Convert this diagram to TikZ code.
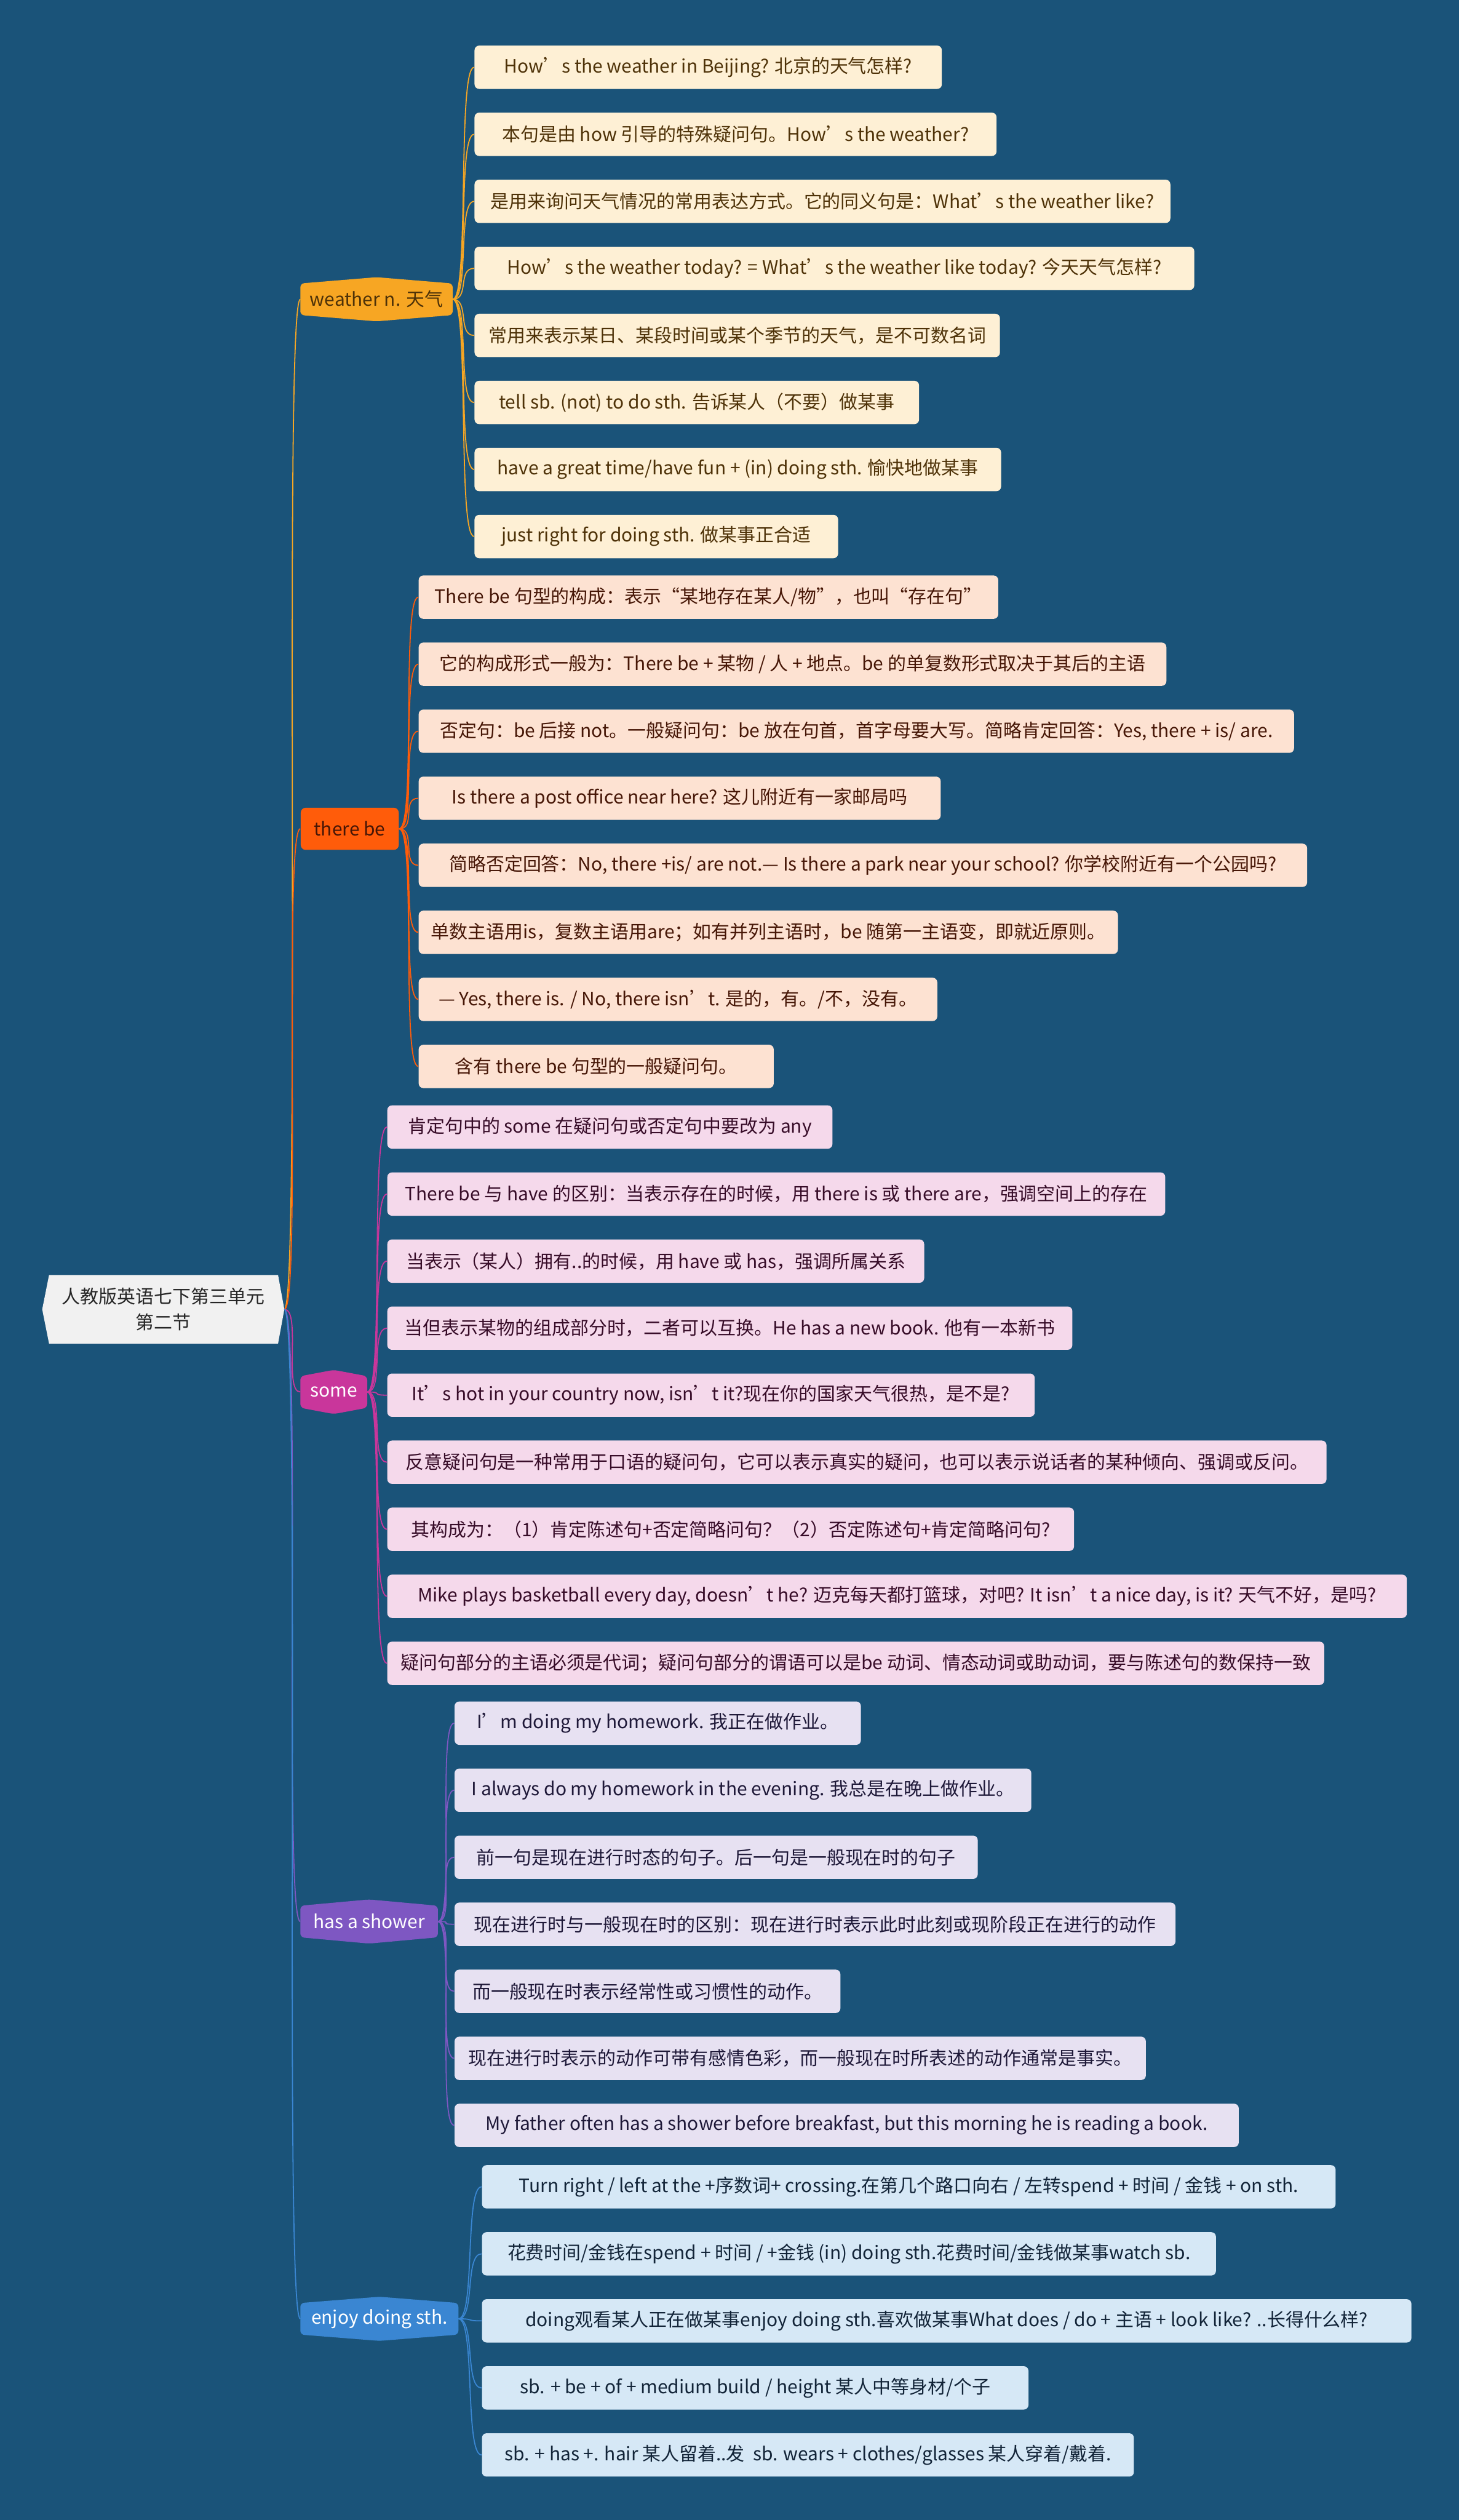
\documentclass[tikz,border=0pt]{standalone}
\usepackage{fontspec}
\setmainfont{Noto Sans CJK SC}
\usetikzlibrary{positioning,backgrounds,calc}
\definecolor{bgblue}{RGB}{26,83,121}
\definecolor{rootfill}{RGB}{241,241,241}
\definecolor{wcol}{RGB}{247,166,35}
\definecolor{tcol}{RGB}{255,92,10}
\definecolor{scol}{RGB}{201,54,155}
\definecolor{hcol}{RGB}{126,87,194}
\definecolor{ecol}{RGB}{58,134,210}
\definecolor{wfill}{RGB}{254,240,213}
\definecolor{tfill}{RGB}{253,226,210}
\definecolor{sfill}{RGB}{245,217,235}
\definecolor{hfill}{RGB}{231,225,242}
\definecolor{efill}{RGB}{214,232,246}
\definecolor{wtext}{RGB}{78,50,8}
\definecolor{ttext}{RGB}{70,22,6}
\definecolor{stext}{RGB}{55,12,40}
\definecolor{htext}{RGB}{30,24,56}
\definecolor{etext}{RGB}{18,36,56}
\newcommand{\hexfill}[2]{\fill[#2,rounded corners=2pt] (#1.north west) -- ([yshift=1.1mm]#1.north) -- (#1.north east) -- (#1.south east) -- ([yshift=-1.1mm]#1.south) -- (#1.south west) -- cycle;}

\begin{document}
\begin{tikzpicture}[every node/.style={font=\fontsize{9.2pt}{12.8pt}\selectfont},
  leaf/.style={rounded corners=2.3pt,minimum height=0.76cm,inner xsep=0.2cm,inner ysep=0pt,anchor=west},
  wleaf/.style={leaf,fill=wfill,text=wtext},
  tleaf/.style={leaf,fill=tfill,text=ttext},
  sleaf/.style={leaf,fill=sfill,text=stext},
  hleaf/.style={leaf,fill=hfill,text=htext},
  eleaf/.style={leaf,fill=efill,text=etext},
  mnode/.style={minimum height=0.54cm,inner sep=0pt,anchor=west},
  link/.style={line width=0.55pt,to path={.. controls +(0.3,0) and +(-0.3,0) .. (\tikztotarget)}}]
  \useasboundingbox (0,0) rectangle (25.6,-44.21);

  \node[minimum width=4.09cm,minimum height=1.19cm,text width=4cm,align=center,text=black!85] (root) at (2.865,-22.97) {人教版英语七下第三单元\\第二节};

  % main branches
  \node[mnode,minimum width=2.66cm,text=wtext] (weather) at (5.27,-5.25) {weather n. 天气};
  \node[mnode,minimum width=1.72cm,minimum height=0.74cm,fill=tcol,rounded corners=2.5pt,text=ttext] (therebe) at (5.27,-14.54) {there be};
  \node[mnode,minimum width=1.16cm,text=white] (some) at (5.27,-24.42) {some};
  \node[mnode,minimum width=2.40cm,text=white] (shower) at (5.27,-33.71) {has a shower};
  \node[mnode,minimum width=2.76cm,text=white] (enjoy) at (5.27,-40.68) {enjoy doing sth.};

  % weather
  \node[wleaf,minimum width=8.20cm] (w1) at (8.32,-1.18) {How’s the weather in Beijing? 北京的天气怎样?};
  \node[wleaf,minimum width=9.16cm,below right=0.402cm and 0cm of w1.south west] (w2) {本句是由 how 引导的特殊疑问句。How’s the weather?};
  \node[wleaf,minimum width=12.21cm,below right=0.402cm and 0cm of w2.south west] (w3) {是用来询问天气情况的常用表达方式。它的同义句是：What’s the weather like?};
  \node[wleaf,minimum width=12.63cm,below right=0.402cm and 0cm of w3.south west] (w4) {How’s the weather today? = What’s the weather like today? 今天天气怎样?};
  \node[wleaf,minimum width=9.22cm,below right=0.402cm and 0cm of w4.south west] (w5) {常用来表示某日、某段时间或某个季节的天气，是不可数名词};
  \node[wleaf,minimum width=7.80cm,below right=0.402cm and 0cm of w5.south west] (w6) {tell sb. (not) to do sth. 告诉某人（不要）做某事};
  \node[wleaf,minimum width=9.24cm,below right=0.402cm and 0cm of w6.south west] (w7) {have a great time/have fun + (in) doing sth. 愉快地做某事};
  \node[wleaf,minimum width=6.38cm,below right=0.402cm and 0cm of w7.south west] (w8) {just right for doing sth. 做某事正合适};

  % there be
  \node[tleaf,minimum width=10.17cm] (t1) at (7.34,-10.476) {There be 句型的构成：表示“某地存在某人/物”，也叫“存在句”};
  \node[tleaf,minimum width=13.12cm,below right=0.402cm and 0cm of t1.south west] (t2) {它的构成形式一般为：There be + 某物 / 人 + 地点。be 的单复数形式取决于其后的主语};
  \node[tleaf,minimum width=15.36cm,below right=0.402cm and 0cm of t2.south west] (t3) {否定句：be 后接 not。一般疑问句：be 放在句首，首字母要大写。简略肯定回答：Yes, there + is/ are.};
  \node[tleaf,minimum width=9.16cm,below right=0.402cm and 0cm of t3.south west] (t4) {Is there a post office near here? 这儿附近有一家邮局吗};
  \node[tleaf,minimum width=15.59cm,below right=0.402cm and 0cm of t4.south west] (t5) {简略否定回答：No, there +is/ are not.— Is there a park near your school? 你学校附近有一个公园吗?};
  \node[tleaf,minimum width=12.27cm,below right=0.402cm and 0cm of t5.south west] (t6) {单数主语用is，复数主语用are；如有并列主语时，be 随第一主语变，即就近原则。};
  \node[tleaf,minimum width=9.10cm,below right=0.402cm and 0cm of t6.south west] (t7) {— Yes, there is. / No, there isn’t. 是的，有。/不，没有。};
  \node[tleaf,minimum width=6.23cm,below right=0.402cm and 0cm of t7.south west] (t8) {含有 there be 句型的一般疑问句。};

  % some
  \node[sleaf,minimum width=7.81cm] (s1) at (6.79,-19.772) {肯定句中的 some 在疑问句或否定句中要改为 any};
  \node[sleaf,minimum width=13.65cm,below right=0.402cm and 0cm of s1.south west] (s2) {There be 与 have 的区别：当表示存在的时候，用 there is 或 there are，强调空间上的存在};
  \node[sleaf,minimum width=9.42cm,below right=0.402cm and 0cm of s2.south west] (s3) {当表示（某人）拥有..的时候，用 have 或 has，强调所属关系};
  \node[sleaf,minimum width=12.02cm,below right=0.402cm and 0cm of s3.south west] (s4) {当但表示某物的组成部分时，二者可以互换。He has a new book. 他有一本新书};
  \node[sleaf,minimum width=11.36cm,below right=0.402cm and 0cm of s4.south west] (s5) {It’s hot in your country now, isn’t it?现在你的国家天气很热，是不是?};
  \node[sleaf,minimum width=16.48cm,below right=0.402cm and 0cm of s5.south west] (s6) {反意疑问句是一种常用于口语的疑问句，它可以表示真实的疑问，也可以表示说话者的某种倾向、强调或反问。};
  \node[sleaf,minimum width=12.05cm,below right=0.402cm and 0cm of s6.south west] (s7) {其构成为：（1）肯定陈述句+否定简略问句？（2）否定陈述句+肯定简略问句?};
  \node[sleaf,minimum width=17.89cm,below right=0.402cm and 0cm of s7.south west] (s8) {Mike plays basketball every day, doesn’t he? 迈克每天都打篮球，对吧? It isn’t a nice day, is it? 天气不好，是吗?};
  \node[sleaf,minimum width=16.44cm,below right=0.402cm and 0cm of s8.south west] (s9) {疑问句部分的主语必须是代词；疑问句部分的谓语可以是be 动词、情态动词或助动词，要与陈述句的数保持一致};

  % has a shower
  \node[hleaf,minimum width=7.13cm] (h1) at (7.97,-30.23) {I’m doing my homework. 我正在做作业。};
  \node[hleaf,minimum width=10.12cm,below right=0.402cm and 0cm of h1.south west] (h2) {I always do my homework in the evening. 我总是在晚上做作业。};
  \node[hleaf,minimum width=9.18cm,below right=0.402cm and 0cm of h2.south west] (h3) {前一句是现在进行时态的句子。后一句是一般现在时的句子};
  \node[hleaf,minimum width=12.65cm,below right=0.402cm and 0cm of h3.south west] (h4) {现在进行时与一般现在时的区别：现在进行时表示此时此刻或现阶段正在进行的动作};
  \node[hleaf,minimum width=6.77cm,below right=0.402cm and 0cm of h4.south west] (h5) {而一般现在时表示经常性或习惯性的动作。};
  \node[hleaf,minimum width=12.13cm,below right=0.402cm and 0cm of h5.south west] (h6) {现在进行时表示的动作可带有感情色彩，而一般现在时所表述的动作通常是事实。};
  \node[hleaf,minimum width=13.76cm,below right=0.402cm and 0cm of h6.south west] (h7) {My father often has a shower before breakfast, but this morning he is reading a book.};

  % enjoy doing sth.
  \node[eleaf,minimum width=14.98cm] (e1) at (8.45,-38.364) {Turn right / left at the +序数词+ crossing.在第几个路口向右 / 左转spend + 时间 / 金钱 + on sth.};
  \node[eleaf,minimum width=12.88cm,below right=0.402cm and 0cm of e1.south west] (e2) {花费时间/金钱在spend + 时间 / +金钱 (in) doing sth.花费时间/金钱做某事watch sb.};
  \node[eleaf,minimum width=16.31cm,below right=0.402cm and 0cm of e2.south west] (e3) {doing观看某人正在做某事enjoy doing sth.喜欢做某事What does / do + 主语 + look like? ..长得什么样?};
  \node[eleaf,minimum width=9.59cm,below right=0.402cm and 0cm of e3.south west] (e4) {sb. + be + of + medium build / height 某人中等身材/个子};
  \node[eleaf,minimum width=11.44cm,below right=0.402cm and 0cm of e4.south west] (e5) {sb. + has +. hair 某人留着..发~ sb. wears + clothes/glasses 某人穿着/戴着.};

  \begin{scope}[on background layer]
    \fill[bgblue] (0,0) rectangle (25.6,-44.21);
    \fill[rootfill] (root.west) -- ([xshift=1.2mm]root.north west) -- ([xshift=-1.1mm]root.north east) -- (root.east) -- ([xshift=-1.1mm]root.south east) -- ([xshift=1.2mm]root.south west) -- cycle;
    \hexfill{weather}{wcol}
    \hexfill{some}{scol}
    \hexfill{shower}{hcol}
    \hexfill{enjoy}{ecol}
  \end{scope}

  % connectors
  \draw[link,wcol] (root.east) to (weather.west); \draw[link,tcol] (root.east) to (therebe.west); \draw[link,scol] (root.east) to (some.west);
  \draw[link,hcol] (root.east) to (shower.west); \draw[link,ecol] (root.east) to (enjoy.west);
  \draw[link,wcol] (weather.east) to (w1.west); \draw[link,wcol] (weather.east) to (w2.west); \draw[link,wcol] (weather.east) to (w3.west); \draw[link,wcol] (weather.east) to (w4.west);
  \draw[link,wcol] (weather.east) to (w5.west); \draw[link,wcol] (weather.east) to (w6.west); \draw[link,wcol] (weather.east) to (w7.west); \draw[link,wcol] (weather.east) to (w8.west);
  \draw[link,tcol] (therebe.east) to (t1.west); \draw[link,tcol] (therebe.east) to (t2.west); \draw[link,tcol] (therebe.east) to (t3.west); \draw[link,tcol] (therebe.east) to (t4.west);
  \draw[link,tcol] (therebe.east) to (t5.west); \draw[link,tcol] (therebe.east) to (t6.west); \draw[link,tcol] (therebe.east) to (t7.west); \draw[link,tcol] (therebe.east) to (t8.west);
  \draw[link,scol] (some.east) to (s1.west); \draw[link,scol] (some.east) to (s2.west); \draw[link,scol] (some.east) to (s3.west); \draw[link,scol] (some.east) to (s4.west); \draw[link,scol] (some.east) to (s5.west);
  \draw[link,scol] (some.east) to (s6.west); \draw[link,scol] (some.east) to (s7.west); \draw[link,scol] (some.east) to (s8.west); \draw[link,scol] (some.east) to (s9.west);
  \draw[link,hcol] (shower.east) to (h1.west); \draw[link,hcol] (shower.east) to (h2.west); \draw[link,hcol] (shower.east) to (h3.west); \draw[link,hcol] (shower.east) to (h4.west);
  \draw[link,hcol] (shower.east) to (h5.west); \draw[link,hcol] (shower.east) to (h6.west); \draw[link,hcol] (shower.east) to (h7.west);
  \draw[link,ecol] (enjoy.east) to (e1.west); \draw[link,ecol] (enjoy.east) to (e2.west); \draw[link,ecol] (enjoy.east) to (e3.west);
  \draw[link,ecol] (enjoy.east) to (e4.west); \draw[link,ecol] (enjoy.east) to (e5.west);
\end{tikzpicture}
\end{document}
